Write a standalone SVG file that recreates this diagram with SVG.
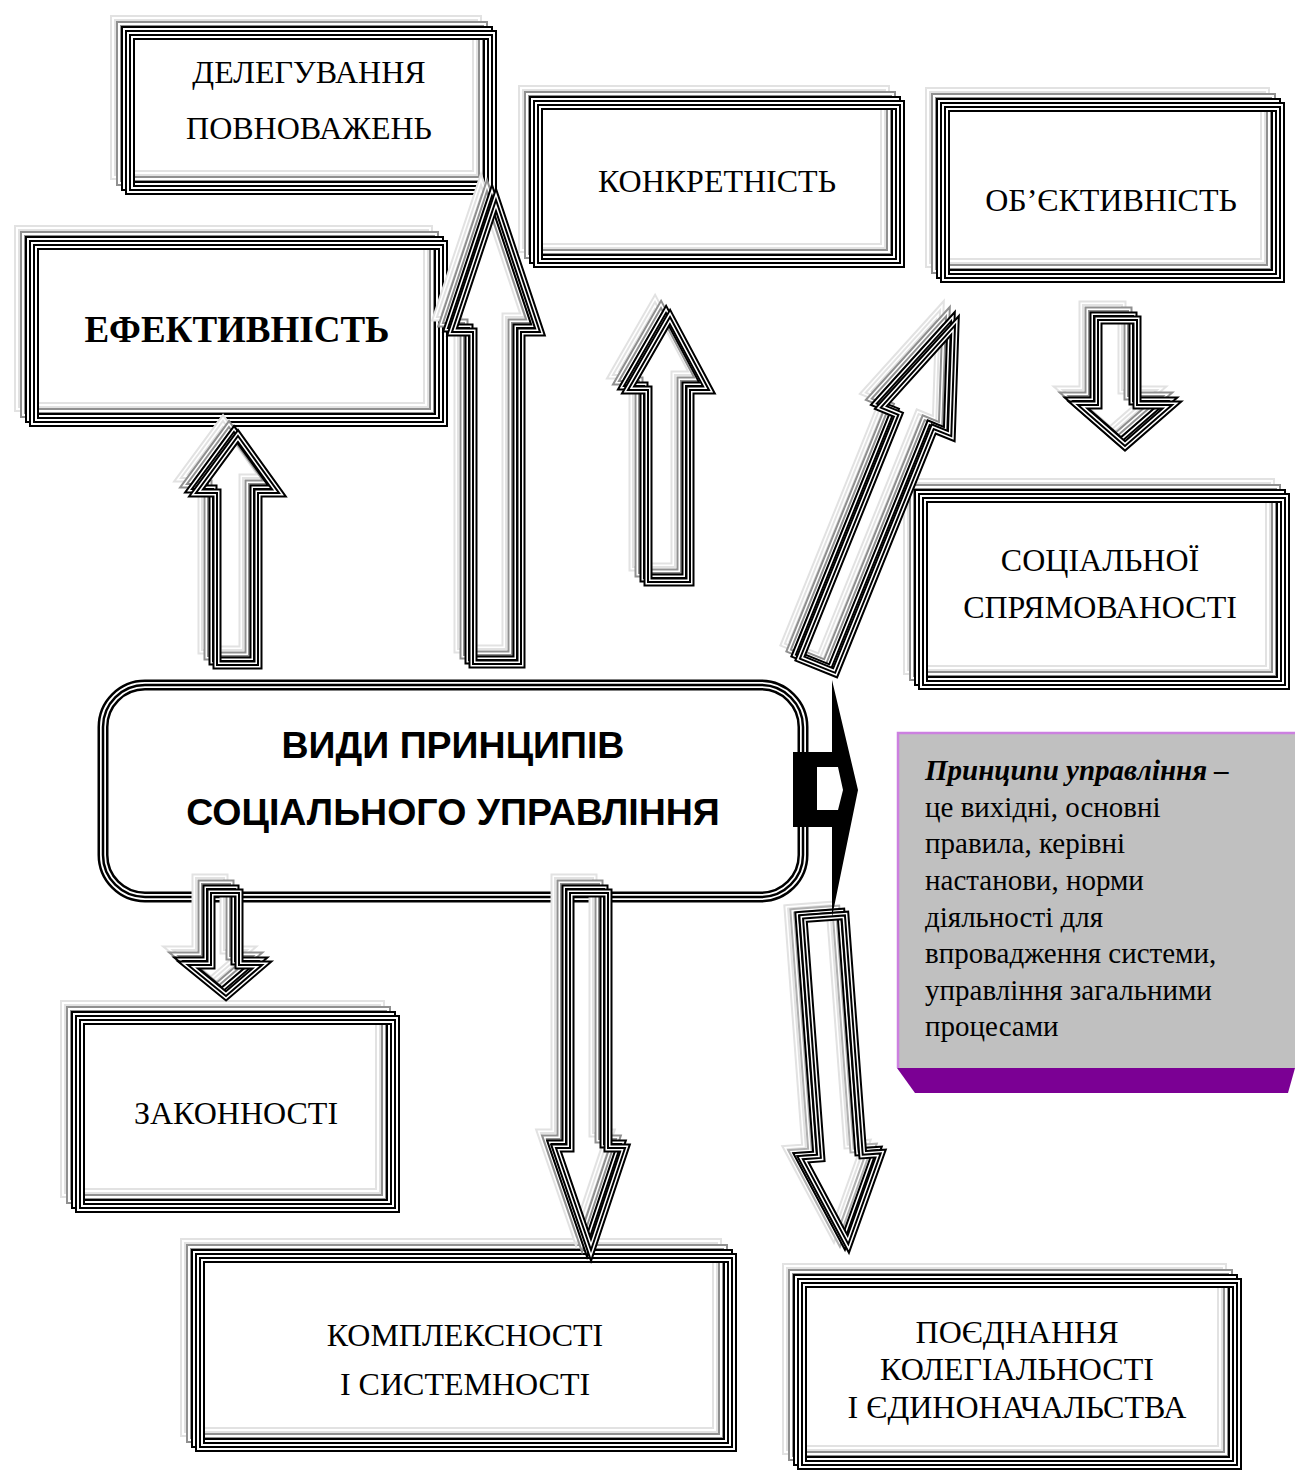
<svg xmlns="http://www.w3.org/2000/svg" xmlns:xlink="http://www.w3.org/1999/xlink" width="1295" height="1472" viewBox="0 0 1295 1472">
<style>
  .t{font-family:"Liberation Serif","Times New Roman",serif;font-size:32px;text-anchor:middle;fill:#000}
  .tb{font-weight:bold;font-size:37px}
  .ts{font-family:"Liberation Sans",Arial,sans-serif;font-weight:bold;font-size:37.5px;text-anchor:middle;fill:#000}
  .n{font-family:"Liberation Serif","Times New Roman",serif;font-size:29px;fill:#000}
  .shp{fill:none;stroke-linejoin:miter;stroke-miterlimit:10}
</style>
<defs>
  <!-- outlines (stroke centre lines) -->
  <rect id="p-deleg" class="shp" x="130" y="35" width="362" height="155"/>
  <rect id="p-efek" class="shp" x="34" y="245" width="409" height="177"/>
  <rect id="p-konkr" class="shp" x="538" y="105" width="362" height="158"/>
  <rect id="p-obekt" class="shp" x="945" y="107" width="335" height="171"/>
  <rect id="p-social" class="shp" x="923" y="498" width="362" height="187"/>
  <rect id="p-zakon" class="shp" x="80" y="1020" width="315" height="188"/>
  <rect id="p-kompl" class="shp" x="200" y="1258" width="532" height="189"/>
  <rect id="p-poedn" class="shp" x="802" y="1283" width="435" height="182"/>
  <rect id="p-main" class="shp" x="103" y="685" width="700" height="212" rx="42"/>

  <path id="p-aA" class="shp" d="M238,436 L279,493 L258,493 L258,665 L217,665 L217,493 L196,493 Z"/>
  <path id="p-aB" class="shp" d="M496,200 L540,332 L521,332 L521,664 L473,664 L473,332 L452,332 Z"/>
  <path id="p-aC" class="shp" d="M670,317 L709,390 L690,390 L690,582 L648,582 L648,390 L628,390 Z"/>
  <path id="p-aD" class="shp" transform="translate(958,318) rotate(22)" d="M0,8 L38,112 L19,112 L19,375 L-19,375 L-19,112 L-38,112 Z"/>
  <path id="p-aE" class="shp" d="M1098,320 H1137 V405 H1172 L1125,446 L1078,405 H1098 Z"/>
  <path id="p-aF" class="shp" d="M211,893 H239 V965 H262 L226,996 L188,965 H211 Z"/>
  <path id="p-aG" class="shp" d="M570,893 H608 V1148 H625 L591,1250 L556,1148 H570 Z"/>
  <path id="p-aH" class="shp" transform="translate(824,917) rotate(-4.25)" d="M-21,0 H21 V240 H39 L0,328 L-39,240 H-21 Z"/>

  <!-- triple-line strokes, coloured by currentColor -->
  <g id="k-deleg"><use href="#p-deleg" stroke="currentColor" stroke-width="10"/><use href="#p-deleg" stroke="#fff" stroke-width="6"/><use href="#p-deleg" stroke="currentColor" stroke-width="2"/></g>
  <g id="k-efek"><use href="#p-efek" stroke="currentColor" stroke-width="10"/><use href="#p-efek" stroke="#fff" stroke-width="6"/><use href="#p-efek" stroke="currentColor" stroke-width="2"/></g>
  <g id="k-konkr"><use href="#p-konkr" stroke="currentColor" stroke-width="10"/><use href="#p-konkr" stroke="#fff" stroke-width="6"/><use href="#p-konkr" stroke="currentColor" stroke-width="2"/></g>
  <g id="k-obekt"><use href="#p-obekt" stroke="currentColor" stroke-width="10"/><use href="#p-obekt" stroke="#fff" stroke-width="6"/><use href="#p-obekt" stroke="currentColor" stroke-width="2"/></g>
  <g id="k-social"><use href="#p-social" stroke="currentColor" stroke-width="10"/><use href="#p-social" stroke="#fff" stroke-width="6"/><use href="#p-social" stroke="currentColor" stroke-width="2"/></g>
  <g id="k-zakon"><use href="#p-zakon" stroke="currentColor" stroke-width="10"/><use href="#p-zakon" stroke="#fff" stroke-width="6"/><use href="#p-zakon" stroke="currentColor" stroke-width="2"/></g>
  <g id="k-kompl"><use href="#p-kompl" stroke="currentColor" stroke-width="10"/><use href="#p-kompl" stroke="#fff" stroke-width="6"/><use href="#p-kompl" stroke="currentColor" stroke-width="2"/></g>
  <g id="k-poedn"><use href="#p-poedn" stroke="currentColor" stroke-width="10"/><use href="#p-poedn" stroke="#fff" stroke-width="6"/><use href="#p-poedn" stroke="currentColor" stroke-width="2"/></g>
  <g id="k-main"><use href="#p-main" stroke="currentColor" stroke-width="11"/><use href="#p-main" stroke="#fff" stroke-width="6"/><use href="#p-main" stroke="currentColor" stroke-width="2.5"/></g>

  <g id="k-aA"><use href="#p-aA" stroke="currentColor" stroke-width="9"/><use href="#p-aA" stroke="#fff" stroke-width="5"/><use href="#p-aA" stroke="currentColor" stroke-width="2"/></g>
  <g id="k-aB"><use href="#p-aB" stroke="currentColor" stroke-width="9"/><use href="#p-aB" stroke="#fff" stroke-width="5"/><use href="#p-aB" stroke="currentColor" stroke-width="2"/></g>
  <g id="k-aC"><use href="#p-aC" stroke="currentColor" stroke-width="9"/><use href="#p-aC" stroke="#fff" stroke-width="5"/><use href="#p-aC" stroke="currentColor" stroke-width="2"/></g>
  <g id="k-aD"><use href="#p-aD" stroke="currentColor" stroke-width="9"/><use href="#p-aD" stroke="#fff" stroke-width="5"/><use href="#p-aD" stroke="currentColor" stroke-width="2"/></g>
  <g id="k-aE"><use href="#p-aE" stroke="currentColor" stroke-width="9"/><use href="#p-aE" stroke="#fff" stroke-width="5"/><use href="#p-aE" stroke="currentColor" stroke-width="2"/></g>
  <g id="k-aF"><use href="#p-aF" stroke="currentColor" stroke-width="9"/><use href="#p-aF" stroke="#fff" stroke-width="5"/><use href="#p-aF" stroke="currentColor" stroke-width="2"/></g>
  <g id="k-aG"><use href="#p-aG" stroke="currentColor" stroke-width="9"/><use href="#p-aG" stroke="#fff" stroke-width="5"/><use href="#p-aG" stroke="currentColor" stroke-width="2"/></g>
  <g id="k-aH"><use href="#p-aH" stroke="currentColor" stroke-width="9"/><use href="#p-aH" stroke="#fff" stroke-width="5"/><use href="#p-aH" stroke="currentColor" stroke-width="2"/></g>
</defs>

<rect width="1295" height="1472" fill="#fff"/>

<!-- principle boxes: light, mid and dark copies behind the main frame -->
<g id="node-deleg">
  <use href="#k-deleg" transform="translate(-15,-15)" color="#e2e2e2"/>
  <use href="#k-deleg" transform="translate(-9,-9)" color="#909090"/>
  <use href="#k-deleg" transform="translate(-4,-4)" color="#000"/>
  <use href="#k-deleg" color="#000"/>
  <text class="t" x="309" y="83">ДЕЛЕГУВАННЯ</text>
  <text class="t" x="309" y="139">ПОВНОВАЖЕНЬ</text>
</g>
<g id="node-efek">
  <use href="#k-efek" transform="translate(-15,-15)" color="#e2e2e2"/>
  <use href="#k-efek" transform="translate(-9,-9)" color="#909090"/>
  <use href="#k-efek" transform="translate(-4,-4)" color="#000"/>
  <use href="#k-efek" color="#000"/>
  <text class="t tb" x="237" y="342">ЕФЕКТИВНІСТЬ</text>
</g>
<g id="node-konkr">
  <use href="#k-konkr" transform="translate(-15,-15)" color="#e2e2e2"/>
  <use href="#k-konkr" transform="translate(-9,-9)" color="#909090"/>
  <use href="#k-konkr" transform="translate(-4,-4)" color="#000"/>
  <use href="#k-konkr" color="#000"/>
  <text class="t" x="717" y="192">КОНКРЕТНІСТЬ</text>
</g>
<g id="node-obekt">
  <use href="#k-obekt" transform="translate(-15,-15)" color="#e2e2e2"/>
  <use href="#k-obekt" transform="translate(-9,-9)" color="#909090"/>
  <use href="#k-obekt" transform="translate(-4,-4)" color="#000"/>
  <use href="#k-obekt" color="#000"/>
  <text class="t" x="1111" y="211">ОБ’ЄКТИВНІСТЬ</text>
</g>
<g id="node-social">
  <use href="#k-social" transform="translate(-15,-15)" color="#e2e2e2"/>
  <use href="#k-social" transform="translate(-9,-9)" color="#909090"/>
  <use href="#k-social" transform="translate(-4,-4)" color="#000"/>
  <use href="#k-social" color="#000"/>
  <text class="t" x="1100" y="571">СОЦІАЛЬНОЇ</text>
  <text class="t" x="1100" y="618">СПРЯМОВАНОСТІ</text>
</g>
<g id="node-zakon">
  <use href="#k-zakon" transform="translate(-15,-15)" color="#e2e2e2"/>
  <use href="#k-zakon" transform="translate(-9,-9)" color="#909090"/>
  <use href="#k-zakon" transform="translate(-4,-4)" color="#000"/>
  <use href="#k-zakon" color="#000"/>
  <text class="t" x="236" y="1124">ЗАКОННОСТІ</text>
</g>
<g id="node-kompl">
  <use href="#k-kompl" transform="translate(-15,-15)" color="#e2e2e2"/>
  <use href="#k-kompl" transform="translate(-9,-9)" color="#909090"/>
  <use href="#k-kompl" transform="translate(-4,-4)" color="#000"/>
  <use href="#k-kompl" color="#000"/>
  <text class="t" x="465" y="1346">КОМПЛЕКСНОСТІ</text>
  <text class="t" x="465" y="1395">І СИСТЕМНОСТІ</text>
</g>
<g id="node-poedn">
  <use href="#k-poedn" transform="translate(-15,-15)" color="#e2e2e2"/>
  <use href="#k-poedn" transform="translate(-9,-9)" color="#909090"/>
  <use href="#k-poedn" transform="translate(-4,-4)" color="#000"/>
  <use href="#k-poedn" color="#000"/>
  <text class="t" x="1017" y="1343">ПОЄДНАННЯ</text>
  <text class="t" x="1017" y="1380">КОЛЕГІАЛЬНОСТІ</text>
  <text class="t" x="1017" y="1418">І ЄДИНОНАЧАЛЬСТВА</text>
</g>

<!-- central rounded box -->
<g id="node-main">
  <use href="#k-main" color="#000"/>
  <text class="ts" x="453" y="758">ВИДИ ПРИНЦИПІВ</text>
  <text class="ts" x="453" y="825">СОЦІАЛЬНОГО УПРАВЛІННЯ</text>
</g>

<!-- definition callout -->
<g id="node-note">
  <rect x="897" y="732" width="400" height="336" fill="#c0c0c0"/>
  <path d="M898,1068 V733 H1295" fill="none" stroke="#cc80e0" stroke-width="2.5"/>
  <polygon points="897,1068 1295,1068 1288,1093 915,1093" fill="#7b0094"/>
  <text class="n" x="925" y="780"><tspan font-weight="bold" font-style="italic">Принципи управління –</tspan></text>
  <text class="n" x="925" y="817">це вихідні, основні</text>
  <text class="n" x="925" y="853">правила, керівні</text>
  <text class="n" x="925" y="890">настанови, норми</text>
  <text class="n" x="925" y="927">діяльності для</text>
  <text class="n" x="925" y="963">впровадження системи,</text>
  <text class="n" x="925" y="1000">управління загальними</text>
  <text class="n" x="925" y="1036">процесами</text>
</g>

<!-- connectors: block arrows from the central box and the link to the callout -->
<g id="connectors">
  <g id="arrow-efek">
    <use href="#k-aA" transform="translate(-15,-15)" color="#e2e2e2"/>
    <use href="#k-aA" transform="translate(-9,-9)" color="#909090"/>
    <use href="#k-aA" transform="translate(-4,-4)" color="#000"/>
    <use href="#k-aA" color="#000"/>
  </g>
  <g id="arrow-deleg">
    <use href="#k-aB" transform="translate(-15,-15)" color="#e2e2e2"/>
    <use href="#k-aB" transform="translate(-9,-9)" color="#909090"/>
    <use href="#k-aB" transform="translate(-4,-4)" color="#000"/>
    <use href="#k-aB" color="#000"/>
  </g>
  <g id="arrow-konkr">
    <use href="#k-aC" transform="translate(-15,-15)" color="#e2e2e2"/>
    <use href="#k-aC" transform="translate(-9,-9)" color="#909090"/>
    <use href="#k-aC" transform="translate(-4,-4)" color="#000"/>
    <use href="#k-aC" color="#000"/>
  </g>
  <g id="arrow-obekt">
    <use href="#k-aD" transform="translate(-15,-15)" color="#e2e2e2"/>
    <use href="#k-aD" transform="translate(-9,-9)" color="#909090"/>
    <use href="#k-aD" transform="translate(-4,-4)" color="#000"/>
    <use href="#k-aD" color="#000"/>
  </g>
  <g id="arrow-social">
    <use href="#k-aE" transform="translate(-15,-15)" color="#e2e2e2"/>
    <use href="#k-aE" transform="translate(-9,-9)" color="#909090"/>
    <use href="#k-aE" transform="translate(-4,-4)" color="#000"/>
    <use href="#k-aE" color="#000"/>
  </g>
  <g id="arrow-zakon">
    <use href="#k-aF" transform="translate(-15,-15)" color="#e2e2e2"/>
    <use href="#k-aF" transform="translate(-9,-9)" color="#909090"/>
    <use href="#k-aF" transform="translate(-4,-4)" color="#000"/>
    <use href="#k-aF" color="#000"/>
  </g>
  <g id="arrow-kompl">
    <use href="#k-aG" transform="translate(-15,-15)" color="#e2e2e2"/>
    <use href="#k-aG" transform="translate(-9,-9)" color="#909090"/>
    <use href="#k-aG" transform="translate(-4,-4)" color="#000"/>
    <use href="#k-aG" color="#000"/>
  </g>
  <g id="arrow-poedn">
    <use href="#k-aH" transform="translate(-15,-10)" color="#e2e2e2"/>
    <use href="#k-aH" transform="translate(-9,-6)" color="#b0b0b0"/>
    <use href="#k-aH" transform="translate(-4,-3)" color="#000"/>
    <use href="#k-aH" color="#000"/>
  </g>
  <g id="link-note">
    <path d="M793,752 H832 V680 L858,790 L832,917 V827 H793 Z" fill="#000"/>
    <path d="M817,767 H838 L843,790 L838,810 H817 Z" fill="#fff"/>
  </g>
</g>
</svg>
